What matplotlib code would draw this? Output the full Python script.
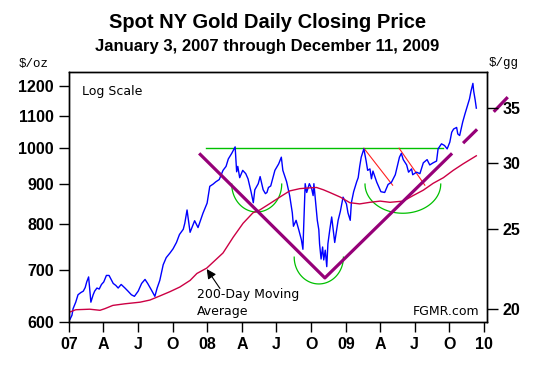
import numpy as np
import pandas as pd
import matplotlib
matplotlib.use('Agg')
import matplotlib.pyplot as plt
import matplotlib.dates as mdates
from matplotlib.ticker import FixedLocator, NullLocator, FixedFormatter

# spot gold close ($/oz)
gold_dates = [
    '2007-01-03', '2007-01-08', '2007-01-11', '2007-01-18', '2007-01-24', '2007-01-31',
    '2007-02-07', '2007-02-12', '2007-02-16', '2007-02-21', '2007-02-27', '2007-03-05',
    '2007-03-09', '2007-03-15', '2007-03-21', '2007-03-27', '2007-04-02', '2007-04-09',
    '2007-04-16', '2007-04-23', '2007-04-27', '2007-05-04', '2007-05-10', '2007-05-18',
    '2007-05-28', '2007-06-05', '2007-06-14', '2007-06-22', '2007-07-02', '2007-07-11',
    '2007-07-20', '2007-07-27', '2007-08-06', '2007-08-15', '2007-08-21', '2007-08-28',
    '2007-09-06', '2007-09-14', '2007-09-24', '2007-10-02', '2007-10-11', '2007-10-19',
    '2007-10-29', '2007-11-02', '2007-11-08', '2007-11-16', '2007-11-28', '2007-12-07',
    '2007-12-20', '2007-12-31',
    '2008-01-07', '2008-01-16', '2008-01-23', '2008-02-01', '2008-02-11', '2008-02-19',
    '2008-02-25', '2008-03-05', '2008-03-14', '2008-03-18', '2008-03-21', '2008-03-26',
    '2008-04-03', '2008-04-11', '2008-04-17', '2008-04-25', '2008-05-01', '2008-05-05',
    '2008-05-14', '2008-05-19', '2008-05-27', '2008-06-02', '2008-06-06', '2008-06-10',
    '2008-06-16', '2008-06-27', '2008-07-07', '2008-07-14', '2008-07-18', '2008-07-28',
    '2008-08-05', '2008-08-12', '2008-08-15', '2008-08-22', '2008-08-29', '2008-09-05',
    '2008-09-09', '2008-09-15', '2008-09-19', '2008-09-26', '2008-10-02', '2008-10-06',
    '2008-10-08', '2008-10-13', '2008-10-17', '2008-10-21', '2008-10-23', '2008-10-27',
    '2008-10-31', '2008-11-03', '2008-11-07', '2008-11-11', '2008-11-14', '2008-11-19',
    '2008-11-24', '2008-11-28', '2008-12-02', '2008-12-11', '2008-12-17', '2008-12-24',
    '2009-01-02', '2009-01-06', '2009-01-12', '2009-01-15', '2009-01-21', '2009-01-29',
    '2009-02-02', '2009-02-06', '2009-02-10', '2009-02-17', '2009-02-23', '2009-02-27',
    '2009-03-05', '2009-03-09', '2009-03-13', '2009-03-23', '2009-04-03', '2009-04-13',
    '2009-04-22', '2009-05-01', '2009-05-11', '2009-05-22', '2009-05-27', '2009-06-01',
    '2009-06-10', '2009-06-15', '2009-06-23', '2009-06-26', '2009-07-06', '2009-07-15',
    '2009-07-24', '2009-08-03', '2009-08-10', '2009-08-19', '2009-08-28', '2009-09-01',
    '2009-09-10', '2009-09-18', '2009-09-25', '2009-10-02', '2009-10-07', '2009-10-12',
    '2009-10-20', '2009-10-23', '2009-10-28', '2009-11-05', '2009-11-11', '2009-11-17',
    '2009-11-23', '2009-11-27', '2009-12-02', '2009-12-04', '2009-12-08', '2009-12-11',
]
gold_prices = [
    605, 612, 624, 636, 650, 654,
    657, 664, 675, 685, 636, 650,
    657, 663, 661, 670, 675, 688,
    688, 678, 672, 668, 663, 670,
    663, 657, 650, 647, 657, 672,
    680, 672, 659, 647, 663, 678,
    710, 725, 735, 744, 758, 776,
    788, 802, 834, 781, 808, 792,
    826, 851,
    894, 900, 906, 912, 937, 948,
    969, 985, 1004, 933, 948, 917,
    937, 928, 914, 880, 852, 885,
    901, 920, 885, 875, 878, 891,
    895, 937, 955, 974, 937, 906,
    870, 827, 795, 809, 787, 764,
    743, 901, 878, 901, 888, 870,
    901, 849, 809, 787, 755, 722,
    748, 720, 741, 706, 755, 787,
    817, 787, 758, 809, 831, 866,
    849, 827, 809, 852, 880, 906,
    917, 948, 974, 998, 963, 937,
    941, 914, 935, 905, 880, 878,
    899, 905, 925, 974, 985, 967,
    952, 932, 941, 925, 932, 928,
    958, 967, 952, 958, 963, 998,
    1013, 1008, 998, 1018, 1048, 1058,
    1063, 1043, 1038, 1080, 1106, 1131,
    1156, 1183, 1210, 1183, 1152, 1125,
]

# 200-day moving average
ma_dates = [
    '2007-01-03', '2007-01-18', '2007-02-24', '2007-03-23', '2007-04-05', '2007-04-26',
    '2007-05-28', '2007-07-07', '2007-08-02', '2007-08-29', '2007-09-24', '2007-10-20',
    '2007-11-16', '2007-12-04', '2007-12-30', '2008-02-11', '2008-03-09', '2008-04-04',
    '2008-04-30', '2008-05-18', '2008-06-14', '2008-07-13', '2008-08-05', '2008-09-01',
    '2008-09-27', '2008-10-15', '2008-11-02', '2008-11-19', '2008-12-17', '2009-01-11',
    '2009-02-06', '2009-03-05', '2009-04-01', '2009-04-27', '2009-06-01', '2009-06-27',
    '2009-07-24', '2009-08-19', '2009-09-15', '2009-10-11', '2009-11-06', '2009-12-11',
]
ma_prices = [
    618, 622, 623, 621, 624, 630,
    633, 636, 640, 648, 656, 665,
    678, 692, 703, 735, 770, 802,
    827, 834, 850, 868, 882, 888,
    890, 891, 885, 878, 866, 852,
    849, 853, 856, 853, 856, 870,
    884, 902, 917, 937, 955, 978,
]

# hand drawn annotations
v_dates = ['2007-12-10', '2008-11-06', '2009-10-08']
v_prices = [985, 683, 985]
v_ext = [(('2009-11-06', 1015), ('2009-12-13', 1057)),
         (('2010-01-26', 1113), ('2010-03-04', 1162))]
resist_dates = ['2007-12-28', '2009-09-13']
resist_level = 1000
handle_lines = [(('2009-02-17', 1000), ('2009-05-04', 897)),
                (('2009-05-21', 1000), ('2009-07-28', 897))]
# arcs: centre date, half width (days), top price, bottom price
arcs = [('2008-05-10', 66, 900, 829),
        ('2008-10-21', 65, 726, 671),
        ('2009-05-31', 100, 900, 826)]

x_ticks = ['2007-01-01', '2007-04-01', '2007-07-01', '2007-10-01',
           '2008-01-01', '2008-04-01', '2008-07-01', '2008-10-01',
           '2009-01-01', '2009-04-01', '2009-07-01', '2009-10-01', '2010-01-01']
x_labels = ['07', 'A', 'J', 'O', '08', 'A', 'J', 'O', '09', 'A', 'J', 'O', '10']
y_ticks = [600, 700, 800, 900, 1000, 1100, 1200]
gg_ticks = [20, 25, 30, 35]

plt.rcParams['font.family'] = ['Liberation Sans', 'DejaVu Sans']

fig = plt.figure(figsize=(5.37, 3.67), dpi=100)
ax = fig.add_axes([69.3 / 537, 1 - 322 / 367, 418 / 537, 249.7 / 367])

d = pd.to_datetime
ax.plot(d(gold_dates), gold_prices, color='#0000ff', lw=1.0, zorder=4)
ax.plot(d(ma_dates), ma_prices, color='#cc0044', lw=1.0, zorder=5)

purple = '#960078'
ax.plot(d(v_dates), v_prices, color=purple, lw=2.3, zorder=6, solid_capstyle='butt')
for (a, pa), (b, pb) in v_ext:
    ax.plot(d([a, b]), [pa, pb], color=purple, lw=2.3, zorder=6,
            clip_on=False, solid_capstyle='butt')

ax.plot(d(resist_dates), [resist_level, resist_level], color='#00c000', lw=1.0, zorder=3)
for (a, pa), (b, pb) in handle_lines:
    ax.plot(d([a, b]), [pa, pb], color='#ff2020', lw=0.8, zorder=3)

t = np.linspace(0, np.pi, 60)
for c, w, top, bot in arcs:
    xs = mdates.date2num(d(c)) - w * np.cos(t)
    ys = np.exp(np.log(top) - (np.log(top) - np.log(bot)) * np.sin(t))
    ax.plot(xs, ys, color='#00c000', lw=0.9, zorder=3)

ax.set_yscale('log')
ax.set_ylim(600, 1250)
ax.set_xlim(d('2007-01-01'), d('2010-01-09'))
ax.yaxis.set_major_locator(FixedLocator(y_ticks))
ax.yaxis.set_major_formatter(FixedFormatter([str(v) for v in y_ticks]))
ax.yaxis.set_minor_locator(NullLocator())
ax.set_xticks(d(x_ticks))
ax.set_xticklabels(x_labels)
ax.tick_params(axis='both', direction='out', length=7, width=1, pad=4,
               labelsize=11.5, colors='black')
for lab in ax.get_xticklabels() + ax.get_yticklabels():
    lab.set_fontweight('bold')

ax2 = ax.twinx()
ax2.set_yscale('log')
ax2.set_ylim(19.31, 38.65)
ax2.yaxis.set_major_locator(FixedLocator(gg_ticks))
ax2.yaxis.set_major_formatter(FixedFormatter([str(v) for v in gg_ticks]))
ax2.yaxis.set_minor_locator(NullLocator())
ax2.tick_params(axis='y', direction='out', length=8, width=1, pad=3, labelsize=11.5)
for lab in ax2.get_yticklabels():
    lab.set_fontweight('bold')

for a in (ax, ax2):
    for s in a.spines.values():
        s.set_linewidth(1.0)

ax.text(0.031, 0.922, 'Log Scale', transform=ax.transAxes, fontsize=9,
        family='DejaVu Sans', va='center', ha='left')
ax.text(0.3055, 0.112, '200-Day Moving', transform=ax.transAxes, fontsize=9,
        family='DejaVu Sans', va='center', ha='left')
ax.text(0.3055, 0.044, 'Average', transform=ax.transAxes, fontsize=9,
        family='DejaVu Sans', va='center', ha='left')
ax.text(0.981, 0.044, 'FGMR.com', transform=ax.transAxes, fontsize=9,
        family='DejaVu Sans', va='center', ha='right')
ax.annotate('', xy=(d('2007-12-30'), 701), xytext=(d('2008-02-03'), 662),
            arrowprops=dict(arrowstyle='-|>', color='black', lw=0.8,
                            mutation_scale=14, shrinkA=0, shrinkB=0), zorder=7)

fig.text(0.499, 1 - 22 / 367, 'Spot NY Gold Daily Closing Price', ha='center',
         va='center', fontsize=14.5, fontweight='bold')
fig.text(0.498, 1 - 47 / 367, 'January 3, 2007 through December 11, 2009',
         ha='center', va='center', fontsize=12, fontweight='bold')
fig.text(34 / 537, 1 - 64 / 367, '$/oz', ha='center', va='center', fontsize=9,
         family='Liberation Mono')
fig.text(504 / 537, 1 - 63 / 367, '$/gg', ha='center', va='center', fontsize=9,
         family='Liberation Mono')

fig.savefig('out.png', dpi=100)
